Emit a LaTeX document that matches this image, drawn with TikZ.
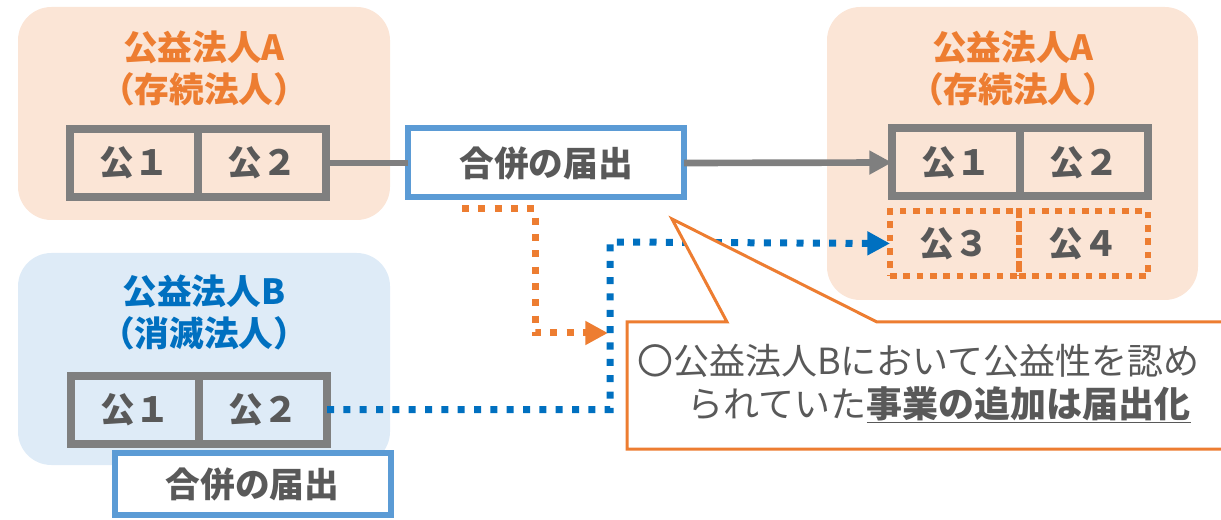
\documentclass[tikz,border=0pt]{standalone}
\usepackage{fontspec}
\setmainfont{Noto Sans CJK JP}
\usetikzlibrary{arrows.meta,positioning}

\definecolor{peach}{RGB}{251,229,214}
\definecolor{paleblue}{RGB}{222,235,247}
\definecolor{accorange}{RGB}{237,125,49}
\definecolor{accblue}{RGB}{0,112,192}
\definecolor{frameblue}{RGB}{91,155,213}
\definecolor{cellgray}{RGB}{127,127,127}
\definecolor{txtgray}{RGB}{89,89,89}

\tikzset{
  bigfont/.style={font=\fontsize{26}{31.5}\selectfont\bfseries},
  cell/.style={bigfont, draw=cellgray, line width=6pt, text=txtgray,
    minimum width=96pt, minimum height=51pt, inner sep=0pt, outer sep=0pt},
  newcell/.style={bigfont, draw=accorange, line width=5pt, text=txtgray,
    dash pattern=on 5pt off 5pt, minimum width=96.75pt, minimum height=48.75pt,
    inner sep=0pt, outer sep=0pt},
  notice/.style={bigfont, draw=frameblue, line width=4.5pt, fill=white, text=txtgray,
    minimum width=207pt, inner sep=0pt, outer sep=0pt},
  grouptitle/.style={bigfont, align=center, inner sep=0pt},
  dotline/.style={line width=5.25pt, dash pattern=on 5.25pt off 7pt},
  tip/.style={-{Triangle[length=17pt,width=17pt]}}
}

\begin{document}
\begin{tikzpicture}[x=0.75pt,y=0.75pt,yscale=-1,xscale=1]
  \clip (0,0) rectangle (1221,520);

  %Shape: Rounded Rect [group A, left]
  \fill [peach, rounded corners=25pt] (18,7) rectangle (390,220);
  %Shape: Rounded Rect [group B]
  \fill [paleblue, rounded corners=25pt] (18,253) rectangle (390,465);
  %Shape: Rounded Rect [group A, right]
  \fill [peach, rounded corners=25pt] (827,7) rectangle (1198,300);

  %Titles
  \node [grouptitle, text=accorange] (titleA) at (204,68) {公益法人A\\（存続法人）};
  \node [grouptitle, text=accblue] (titleB) at (204,312) {公益法人B\\（消滅法人）};
  \node [grouptitle, text=accorange] (titleR) at (1013,68) {公益法人A\\（存続法人）};

  %Cells: A (left)
  \node [cell] (a1) at (134,163) {公１};
  \node [cell, right=0pt of a1] (a2) {公２};
  %Cells: B
  \node [cell] (b1) at (135,409.5) {公１};
  \node [cell, right=0pt of b1] (b2) {公２};
  %Cells: A (right)
  \node [cell] (r1) at (956,162.5) {公１};
  \node [cell, right=0pt of r1] (r2) {公２};
  \node [newcell] (r3) at (954.5,243.5) {公３};
  \node [newcell, right=0pt of r3] (r4) {公４};

  %Notices
  \node [notice, minimum height=51.75pt] (merge) at (546,163) {合併の届出};
  \node [notice, minimum height=46.5pt] (mergeB) at (252.5,484) {合併の届出};

  %Straight Lines
  \draw [cellgray, line width=5pt] (a2.east) -- (merge.west);
  \draw [cellgray, line width=5pt, tip] (merge.east) -- (r1.west);

  %Dotted connectors
  \coordinate (ostart) at (462,209);
  \coordinate (oturn) at (535,333);
  \coordinate (otip) at (608,333);
  \draw [accorange, dotline, tip] (ostart) -| (oturn) -- (otip);
  \coordinate (bturn) at (610,242);
  \draw [accblue, dotline, tip] (b2.east) -| (bturn) -- (r3.west);

  %Shape: Callout
  \coordinate (ptip) at (672,219);
  \draw [accorange, line width=2.25pt, fill=white] (627,322) -- (727,322) -- (ptip)
    -- (877,322) -- (1240,322) -- (1240,449) -- (627,449) -- cycle;
  \node [anchor=west, align=left, inner sep=0pt, text=txtgray,
    font=\fontsize{27}{32.25}\selectfont] (note) at (637,383.5)
    {〇公益法人Bにおいて公益性を認め\\\hspace*{38pt}られていた\underline{\textbf{事業の追加は届出化}}};
\end{tikzpicture}
\end{document}
